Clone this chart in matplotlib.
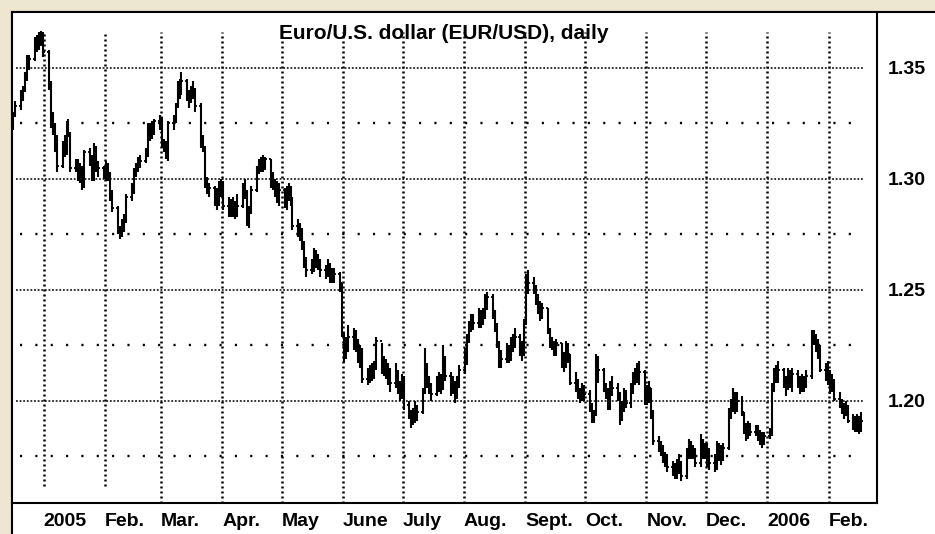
import matplotlib

matplotlib.use("Agg")
import matplotlib.dates as mdates
import matplotlib.pyplot as plt
import numpy as np
import pandas as pd
from matplotlib.patches import Rectangle

plt.rcParams["font.family"] = ["Liberation Sans", "DejaVu Sans"]

# daily EUR/USD bars, 16 Dec 2004 .. 17 Feb 2006 (weekdays)
high = [
    # Dec 2004
    1.3300, 1.3350, 1.3400, 1.3420, 1.3480, 1.3560, 1.3560, 1.3640, 1.3650, 1.3660, 1.3667, 1.3660,
    # Jan 2005
    1.3580, 1.3440, 1.3300, 1.3250, 1.3200, 1.3170, 1.3200, 1.3260, 1.3270, 1.3210, 1.3090, 1.3090, 1.3070, 1.3060, 1.3130, 1.3140, 1.3110, 1.3160, 1.3150, 1.3080, 1.3060,
    # Feb
    1.3080, 1.3070, 1.3030, 1.2950, 1.2880, 1.2790, 1.2820, 1.2840, 1.2930, 1.2980, 1.3050, 1.3070, 1.3100, 1.3110, 1.3140, 1.3250, 1.3250, 1.3260, 1.3270, 1.3290,
    # Mar
    1.3280, 1.3180, 1.3170, 1.3260, 1.3290, 1.3340, 1.3440, 1.3450, 1.3480, 1.3450, 1.3400, 1.3420, 1.3440, 1.3410, 1.3340, 1.3200, 1.3150, 1.3010, 1.2980, 1.2970, 1.2960, 1.2990, 1.3000,
    # Apr
    1.2990, 1.2920, 1.2910, 1.2920, 1.2900, 1.2930, 1.2980, 1.3000, 1.2950, 1.2880, 1.2970, 1.3060, 1.3090, 1.3100, 1.3110, 1.3100, 1.3090, 1.3030, 1.3000, 1.2990, 1.2980,
    # May
    1.2960, 1.2970, 1.2980, 1.2970, 1.2920, 1.2820, 1.2800, 1.2780, 1.2720, 1.2650, 1.2640, 1.2690, 1.2680, 1.2660, 1.2640, 1.2610, 1.2640, 1.2620, 1.2600, 1.2600, 1.2580, 1.2530,
    # Jun
    1.2310, 1.2290, 1.2340, 1.2330, 1.2320, 1.2280, 1.2250, 1.2240, 1.2150, 1.2160, 1.2170, 1.2180, 1.2290, 1.2260, 1.2200, 1.2190, 1.2170, 1.2150, 1.2170, 1.2140, 1.2090, 1.2120,
    # Jul
    1.2110, 1.2000, 1.1960, 1.1970, 1.2000, 1.1980, 1.2060, 1.2240, 1.2170, 1.2110, 1.2080, 1.2110, 1.2130, 1.2120, 1.2250, 1.2200, 1.2130, 1.2110, 1.2090, 1.2110, 1.2160,
    # Aug
    1.2240, 1.2300, 1.2360, 1.2390, 1.2390, 1.2420, 1.2410, 1.2420, 1.2480, 1.2490, 1.2480, 1.2410, 1.2350, 1.2270, 1.2230, 1.2260, 1.2250, 1.2290, 1.2300, 1.2330, 1.2300, 1.2270, 1.2370,
    # Sep
    1.2570, 1.2590, 1.2560, 1.2520, 1.2480, 1.2450, 1.2440, 1.2420, 1.2330, 1.2290, 1.2270, 1.2280, 1.2260, 1.2220, 1.2270, 1.2260, 1.2210, 1.2130, 1.2100, 1.2060, 1.2080, 1.2070,
    # Oct
    1.2050, 1.1990, 1.1960, 1.2210, 1.2200, 1.2150, 1.2080, 1.2060, 1.2090, 1.2110, 1.2080, 1.2040, 1.2000, 1.2060, 1.2050, 1.2080, 1.2130, 1.2150, 1.2170, 1.2180, 1.2140,
    # Nov
    1.2070, 1.2090, 1.2060, 1.1960, 1.1840, 1.1820, 1.1800, 1.1770, 1.1760, 1.1730, 1.1720, 1.1740, 1.1760, 1.1730, 1.1790, 1.1830, 1.1820, 1.1800, 1.1790, 1.1850, 1.1830, 1.1810,
    # Dec
    1.1810, 1.1790, 1.1760, 1.1820, 1.1810, 1.1800, 1.1810, 1.1970, 1.2010, 1.2060, 1.2040, 1.2040, 1.2020, 1.1950, 1.1900, 1.1910, 1.1900, 1.1890, 1.1890, 1.1870, 1.1860, 1.1860,
    # Jan 2006
    1.1880, 1.2080, 1.2150, 1.2160, 1.2180, 1.2150, 1.2110, 1.2150, 1.2140, 1.2150, 1.2140, 1.2110, 1.2120, 1.2110, 1.2140, 1.2320, 1.2320, 1.2300, 1.2280, 1.2250, 1.2170, 1.2180,
    # Feb
    1.2140, 1.2120, 1.2100, 1.2040, 1.2010, 1.1990, 1.2000, 1.1980, 1.1940, 1.1930, 1.1940, 1.1930, 1.1950,
]
low = [
    1.3220, 1.3280, 1.3310, 1.3350, 1.3390, 1.3440, 1.3490, 1.3530, 1.3570, 1.3580, 1.3600, 1.3550,
    1.3400, 1.3230, 1.3200, 1.3120, 1.3030, 1.3050, 1.3100, 1.3110, 1.3190, 1.3030, 1.3030, 1.2990, 1.2980, 1.2950, 1.2960, 1.3060, 1.2990, 1.2990, 1.3030, 1.3010, 1.3000,
    1.2990, 1.2990, 1.2900, 1.2850, 1.2750, 1.2730, 1.2740, 1.2760, 1.2800, 1.2900, 1.2930, 1.3010, 1.3030, 1.3050, 1.3070, 1.3100, 1.3170, 1.3180, 1.3200, 1.3220,
    1.3140, 1.3120, 1.3090, 1.3080, 1.3220, 1.3250, 1.3320, 1.3360, 1.3380, 1.3350, 1.3320, 1.3340, 1.3360, 1.3300, 1.3140, 1.3120, 1.2960, 1.2930, 1.2920, 1.2880, 1.2860, 1.2880, 1.2920,
    1.2860, 1.2830, 1.2830, 1.2830, 1.2820, 1.2830, 1.2870, 1.2910, 1.2790, 1.2780, 1.2840, 1.2940, 1.3020, 1.3030, 1.3030, 1.3040, 1.2960, 1.2950, 1.2920, 1.2890, 1.2880,
    1.2870, 1.2860, 1.2900, 1.2880, 1.2770, 1.2740, 1.2720, 1.2680, 1.2600, 1.2560, 1.2570, 1.2580, 1.2600, 1.2590, 1.2560, 1.2550, 1.2560, 1.2530, 1.2530, 1.2530, 1.2490, 1.2290,
    1.2170, 1.2190, 1.2220, 1.2230, 1.2220, 1.2170, 1.2150, 1.2080, 1.2070, 1.2080, 1.2090, 1.2100, 1.2140, 1.2120, 1.2110, 1.2100, 1.2070, 1.2040, 1.2060, 1.2030, 1.2000, 1.2010,
    1.1960, 1.1920, 1.1880, 1.1890, 1.1900, 1.1910, 1.1940, 1.2030, 1.2060, 1.2030, 1.2000, 1.2020, 1.2040, 1.2030, 1.2050, 1.2090, 1.2020, 1.2030, 1.1990, 1.2010, 1.2060,
    1.2120, 1.2160, 1.2260, 1.2310, 1.2320, 1.2330, 1.2330, 1.2340, 1.2370, 1.2410, 1.2370, 1.2310, 1.2240, 1.2150, 1.2150, 1.2170, 1.2170, 1.2180, 1.2220, 1.2240, 1.2200, 1.2180, 1.2200,
    1.2340, 1.2480, 1.2480, 1.2430, 1.2390, 1.2360, 1.2370, 1.2300, 1.2240, 1.2230, 1.2200, 1.2200, 1.2150, 1.2130, 1.2150, 1.2170, 1.2070, 1.2040, 1.2010, 1.1990, 1.2000, 1.2000,
    1.1950, 1.1900, 1.1900, 1.1930, 1.2080, 1.2040, 1.2010, 1.1960, 1.1960, 1.2020, 1.2000, 1.1890, 1.1910, 1.1950, 1.1970, 1.1970, 1.2030, 1.2070, 1.2080, 1.2070, 1.1980,
    1.1980, 1.1990, 1.1920, 1.1800, 1.1770, 1.1750, 1.1720, 1.1700, 1.1680, 1.1660, 1.1650, 1.1650, 1.1670, 1.1640, 1.1650, 1.1740, 1.1740, 1.1740, 1.1700, 1.1700, 1.1740, 1.1740,
    1.1700, 1.1690, 1.1680, 1.1690, 1.1730, 1.1710, 1.1730, 1.1780, 1.1920, 1.1950, 1.1940, 1.1950, 1.1930, 1.1850, 1.1820, 1.1830, 1.1840, 1.1840, 1.1820, 1.1800, 1.1790, 1.1800,
    1.1830, 1.1840, 1.2040, 1.2080, 1.2080, 1.2060, 1.2020, 1.2050, 1.2060, 1.2040, 1.2060, 1.2030, 1.2040, 1.2040, 1.2060, 1.2100, 1.2250, 1.2220, 1.2190, 1.2130, 1.2090, 1.2070,
    1.2030, 1.2040, 1.2000, 1.1970, 1.1940, 1.1920, 1.1930, 1.1900, 1.1870, 1.1860, 1.1860, 1.1850, 1.1860,
]
close = [
    1.3290, 1.3330, 1.3370, 1.3400, 1.3460, 1.3520, 1.3540, 1.3620, 1.3600, 1.3640, 1.3650, 1.3570,
    1.3430, 1.3260, 1.3240, 1.3150, 1.3060, 1.3140, 1.3130, 1.3240, 1.3200, 1.3050, 1.3070, 1.3000, 1.3050, 1.2970, 1.3120, 1.3100, 1.3000, 1.3140, 1.3040, 1.3050, 1.3040,
    1.3050, 1.3020, 1.2920, 1.2870, 1.2760, 1.2750, 1.2800, 1.2830, 1.2920, 1.2950, 1.3040, 1.3050, 1.3090, 1.3080, 1.3120, 1.3230, 1.3210, 1.3240, 1.3260, 1.3260,
    1.3150, 1.3140, 1.3100, 1.3250, 1.3270, 1.3330, 1.3430, 1.3390, 1.3440, 1.3370, 1.3360, 1.3380, 1.3400, 1.3330, 1.3160, 1.3140, 1.2980, 1.2950, 1.2960, 1.2910, 1.2900, 1.2970, 1.2960,
    1.2880, 1.2870, 1.2870, 1.2860, 1.2850, 1.2880, 1.2940, 1.2940, 1.2860, 1.2850, 1.2950, 1.3040, 1.3070, 1.3050, 1.3080, 1.3090, 1.2980, 1.2960, 1.2950, 1.2920, 1.2950,
    1.2880, 1.2950, 1.2920, 1.2900, 1.2790, 1.2760, 1.2760, 1.2700, 1.2620, 1.2590, 1.2590, 1.2670, 1.2620, 1.2620, 1.2590, 1.2570, 1.2600, 1.2550, 1.2550, 1.2570, 1.2530, 1.2300,
    1.2210, 1.2250, 1.2290, 1.2270, 1.2250, 1.2190, 1.2230, 1.2100, 1.2120, 1.2110, 1.2140, 1.2160, 1.2270, 1.2150, 1.2180, 1.2140, 1.2110, 1.2080, 1.2130, 1.2060, 1.2040, 1.2100,
    1.1980, 1.1940, 1.1910, 1.1930, 1.1920, 1.1950, 1.2040, 1.2160, 1.2080, 1.2050, 1.2030, 1.2080, 1.2110, 1.2070, 1.2170, 1.2110, 1.2040, 1.2070, 1.2030, 1.2080, 1.2140,
    1.2180, 1.2280, 1.2340, 1.2370, 1.2350, 1.2400, 1.2370, 1.2390, 1.2450, 1.2470, 1.2400, 1.2330, 1.2250, 1.2180, 1.2190, 1.2240, 1.2190, 1.2270, 1.2260, 1.2290, 1.2230, 1.2220, 1.2350,
    1.2500, 1.2530, 1.2500, 1.2440, 1.2440, 1.2390, 1.2420, 1.2310, 1.2250, 1.2260, 1.2220, 1.2260, 1.2160, 1.2160, 1.2230, 1.2210, 1.2080, 1.2090, 1.2020, 1.2020, 1.2050, 1.2030,
    1.1970, 1.1920, 1.1940, 1.2110, 1.2140, 1.2060, 1.2040, 1.1980, 1.2050, 1.2060, 1.2030, 1.1940, 1.1980, 1.2040, 1.1990, 1.2050, 1.2100, 1.2110, 1.2110, 1.2130, 1.2000,
    1.2010, 1.2060, 1.1950, 1.1820, 1.1790, 1.1770, 1.1740, 1.1720, 1.1700, 1.1680, 1.1670, 1.1700, 1.1700, 1.1660, 1.1760, 1.1800, 1.1770, 1.1780, 1.1720, 1.1820, 1.1770, 1.1790,
    1.1720, 1.1720, 1.1700, 1.1800, 1.1790, 1.1780, 1.1790, 1.1950, 1.1970, 1.2030, 1.1960, 1.2000, 1.1950, 1.1860, 1.1850, 1.1870, 1.1860, 1.1870, 1.1840, 1.1820, 1.1830, 1.1840,
    1.1850, 1.2060, 1.2130, 1.2110, 1.2140, 1.2080, 1.2070, 1.2130, 1.2090, 1.2120, 1.2100, 1.2060, 1.2100, 1.2070, 1.2110, 1.2290, 1.2280, 1.2260, 1.2220, 1.2140, 1.2110, 1.2120,
    1.2060, 1.2090, 1.2010, 1.1990, 1.1960, 1.1950, 1.1970, 1.1910, 1.1890, 1.1880, 1.1900, 1.1870, 1.1910,
]

month_labels = ["2005", "Feb.", "Mar.", "Apr.", "May", "June", "July", "Aug.",
                "Sept.", "Oct.", "Nov.", "Dec.", "2006", "Feb."]
major_levels = [1.20, 1.25, 1.30, 1.35]
minor_levels = [1.175, 1.225, 1.275, 1.325]
title = "Euro/U.S. dollar (EUR/USD), daily"

BEIGE = "#EDE6D1"
W, H = 935, 534

dates = pd.bdate_range("2004-12-16", "2006-02-17")
assert len(dates) == len(high) == len(low) == len(close), (len(dates), len(high), len(low), len(close))
x = mdates.date2num(dates) + 0.5
opens = np.r_[close[0], close[:-1]]  # fx trades round the clock: open = prior close
months = pd.date_range("2005-01-01", "2006-02-01", freq="MS")
mx = mdates.date2num(months)

fig = plt.figure(figsize=(W / 100, H / 100), dpi=100, facecolor=BEIGE)
# white panel with black frame (runs past the right / bottom edges)
panel = Rectangle((11.5 / W, -0.2), 2, 1.2 - 12 / H, transform=fig.transFigure,
                  facecolor="white", edgecolor="black", lw=1.5, zorder=-5)
fig.add_artist(panel)

ax = fig.add_axes([12 / W, 31 / H, 865 / W, 491 / H])
ax.set_zorder(2)
ax.set_facecolor("white")

px_per_day = (828 - 43) / (mx[-1] - mx[0])
left = mx[0] - 16.0
ax.set_xlim(left, left + 865 / px_per_day)
ax.set_ylim(1.1540, 1.3752)

for lvl in major_levels:
    ax.axhline(lvl, xmin=0.005, xmax=0.984, color="#222222", lw=1.3, ls=(0, (1.0, 1.0)), zorder=1)
for lvl in minor_levels:
    ax.axhline(lvl, xmin=0.009, xmax=0.984, color="black", lw=1.7, ls=(0, (0.9, 5.6)), zorder=1)
for i, m in enumerate(mx):
    ymin = 0.035 if i < 2 else 0.0
    ax.axvline(m, ymin=ymin, ymax=0.959, color="black", lw=1.8, ls=(0, (0.8, 1.2)), zorder=1)

ax.vlines(x, low, high, color="black", lw=1.5, zorder=3)
ax.hlines(close, x, x + 1.0, color="black", lw=1.3, zorder=3)
ax.hlines(opens, x - 1.0, x, color="black", lw=1.3, zorder=3)

ax.text(0.499, 0.957, title, transform=ax.transAxes, ha="center", va="center",
        fontsize=15, fontweight="bold")

ax.set_xticks(mx)
ax.set_xticklabels(month_labels, fontsize=14, fontweight="bold", ha="left")
ax.tick_params(axis="x", length=0, pad=7)

ax.yaxis.tick_right()
ax.set_yticks(major_levels)
ax.set_yticklabels([f"{v:.2f}" for v in major_levels], fontsize=14, fontweight="bold")
ax.tick_params(axis="y", length=0, pad=8)

for sp in ax.spines.values():
    sp.set_color("black")
    sp.set_linewidth(1.5)

fig.savefig("out.png", dpi=100, facecolor=fig.get_facecolor())
